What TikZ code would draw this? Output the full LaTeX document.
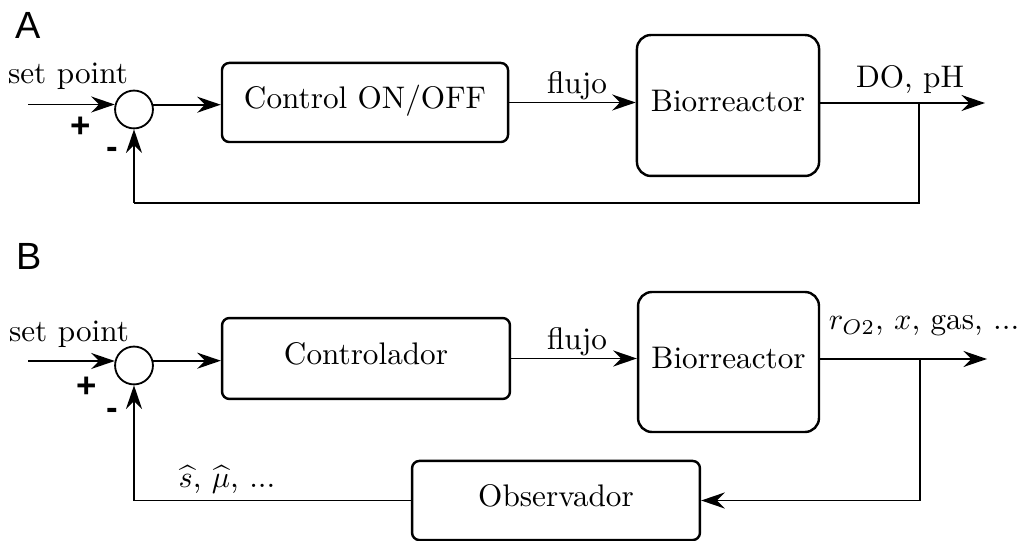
\documentclass[tikz,border=0pt]{standalone}
\usepackage{fontspec}
\newfontfamily\arialfont{Liberation Sans}
\usetikzlibrary{arrows.meta}
\begin{document}
\begin{tikzpicture}[x=0.33pt,y=-0.33pt,
  blk/.style={draw,line width=0.8pt,rounded corners=2.4pt,inner sep=0pt,text height=7pt,text depth=3pt,font=\fontsize{10.3}{12}\selectfont},
  bio/.style={blk,rounded corners=4.6pt},
  sumc/.style={draw,circle,line width=0.6pt,minimum size=12.5pt,inner sep=0pt},
  wire/.style={line width=0.6pt},
  conn/.style={wire,-{Stealth[length=7.8pt,width=5.3pt,inset=2.6pt]}},
  sign/.style={font=\arialfont\bfseries\fontsize{11.5}{13}\selectfont,inner sep=0pt},
  panel/.style={font=\arialfont\fontsize{12.5}{14}\selectfont,inner sep=0pt},
  txt/.style={anchor=base,inner sep=0pt,font=\fontsize{10.3}{12}\selectfont}
]
\useasboundingbox (0,0) rectangle (1020,541);

% ---------- Panel A ----------
\node[panel] (labA) at (28,25) {A};
\node[txt] (spA) at (68,84) {set point};
\coordinate (inA) at (28,104.5);
\node[sumc] (sumA) at (134,109.5) {};
\node[blk,minimum width=94.4pt,minimum height=26.1pt] (ctrlA) at (365,102.5) {Control ON/OFF};
\node[bio,minimum width=60.1pt,minimum height=46.5pt] (bioA) at (728,105.5) {Biorreactor};
\coordinate (outA) at (985,103);
\coordinate (brA) at (919,103);
\coordinate (fbA) at (134,203);
\node[txt] (flA) at (577,94) {flujo};
\node[txt] (yA) at (910,88) {DO, pH};
\node[sign] (plA) at (81,127) {+};
\node[sign] (miA) at (112,153) {-};

\draw[conn] (inA) -- (inA -| sumA.166);
\draw[conn] (sumA.14) -- (sumA.14 -| ctrlA.west);
\draw[conn] (ctrlA.east) -- (ctrlA.east -| bioA.west);
\draw[conn] (bioA.east |- outA) -- (outA);
\draw[wire] (brA) |- (fbA);
\draw[conn] (fbA) -- (sumA.south);

% ---------- Panel B ----------
\node[panel] (labB) at (29,256) {B};
\node[txt] (spB) at (69,342) {set point};
\coordinate (inB) at (28,361);
\node[sumc] (sumB) at (134,365.5) {};
\node[blk,minimum width=95pt,minimum height=26.7pt] (ctrlB) at (366,358.5) {Controlador};
\node[bio,minimum width=59.7pt,minimum height=46.2pt] (bioB) at (728.5,362) {Biorreactor};
\node[blk,minimum width=95pt,minimum height=26.1pt] (obs) at (556,500.5) {Observador};
\coordinate (outB) at (987,359);
\coordinate (brB) at (920,359);
\node[txt] (flB) at (577,350) {flujo};
\node[txt] (yB) at (924,330) {$r_{O2}$, $x$, gas, ...};
\node[txt] (est) at (227,488) {$\widehat{s}$, $\widehat{\mu}$, ...};
\node[sign] (plB) at (87,387) {+};
\node[sign] (miB) at (112,414) {-};

\draw[conn] (inB) -- (inB -| sumB.166);
\draw[conn] (sumB.14) -- (sumB.14 -| ctrlB.west);
\draw[conn] (ctrlB.east) -- (ctrlB.east -| bioB.west);
\draw[conn] (bioB.east |- outB) -- (outB);
\draw[conn] (brB) |- (obs.east);
\draw[conn] (obs.west) -| (sumB.south);
\end{tikzpicture}
\end{document}
